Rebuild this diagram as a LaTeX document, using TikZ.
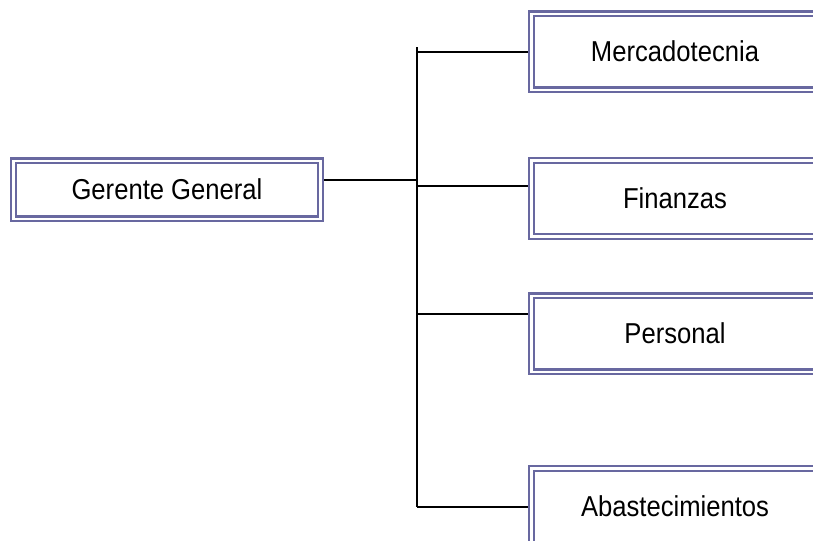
\documentclass[tikz,border=0pt]{standalone}
\usepackage{fontspec}
\setmainfont{Liberation Sans}
\usetikzlibrary{positioning}
\definecolor{marco}{RGB}{104,104,160}
\newcommand{\rotulo}[1]{\scalebox{0.98}[1.1]{#1}}
\tikzset{
  caja/.style={draw=marco, line width=0.065cm, double=white, double distance=0.055cm,
    outer sep=0.095cm, minimum width=7.175cm, minimum height=1.9cm,
    font=\fontsize{18.6}{22}\selectfont},
  rama/.style={line width=0.045cm}
}

\begin{document}
\begin{tikzpicture}
\useasboundingbox (0,0) rectangle (20.325,-13.5);
\node[caja, minimum width=7.675cm, minimum height=1.45cm] (gerente) at (4.175,-4.74) {\rotulo{Gerente General}};
\node[caja] (merca) at (16.875,-1.29) {\rotulo{Mercadotecnia}};
\node[caja] (finan) at (16.875,-4.96) {\rotulo{Finanzas}};
\node[caja] (perso) at (16.875,-8.34) {\rotulo{Personal}};
\node[caja] (abast) at (16.875,-12.66) {\rotulo{Abastecimientos}};
\coordinate (arriba) at (10.425,-1.175);
\coordinate (abajo) at (10.425,-12.675);
\draw[rama] (arriba) -- (abajo);
\draw[rama] ([yshift=0.24cm]gerente.east) -- ([yshift=0.24cm]gerente.east -| arriba);
\draw[rama] (merca.west -| arriba) -- (merca.west);
\draw[rama] ([yshift=0.31cm]finan.west -| arriba) -- ([yshift=0.31cm]finan.west);
\draw[rama] ([yshift=0.49cm]perso.west -| arriba) -- ([yshift=0.49cm]perso.west);
\draw[rama] (abajo) -- (abajo -| abast.west);
\end{tikzpicture}
\end{document}
